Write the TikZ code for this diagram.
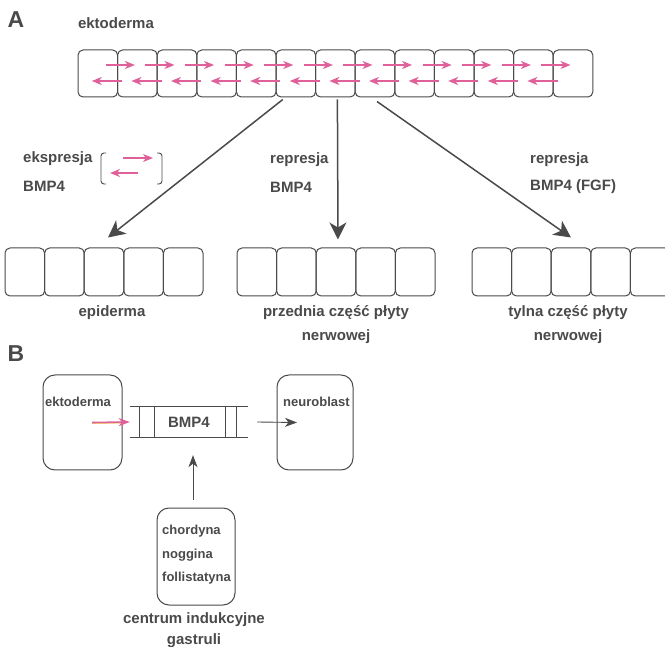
\documentclass[tikz,border=0pt]{standalone}
\usepackage{fontspec}
\setmainfont{Liberation Sans}
\usetikzlibrary{arrows.meta,calc}
\definecolor{ink}{HTML}{4A4A4A}
\definecolor{pinkA}{HTML}{E0609A}
\definecolor{yelA}{HTML}{EFD070}
\begin{document}
\begin{tikzpicture}[x=1pt,y=-1pt,
  font=\fontsize{15}{18}\selectfont\bfseries, text=ink,
  cell/.style={draw=ink, line width=1pt, rounded corners=5pt, minimum width=39.6pt, minimum height=47pt, inner sep=0pt},
  bigarrow/.style={draw=ink, line width=1.5pt, -{Stealth[length=17pt,width=17pt,inset=5pt]}},
  pinkarrow/.style={draw=pinkA, line width=1.6pt, -{Stealth[length=10pt,width=8pt,inset=3pt]}},
  yelline/.style={draw=yelA, line width=1.2pt},
  smallarrow/.style={draw=ink, line width=0.9pt, -{Stealth[length=12pt,width=9pt,inset=3.5pt]}},
  lbl/.style={inner sep=0pt, anchor=west},
  clbl/.style={inner sep=0pt, anchor=center},
  boxB/.style={draw=ink, line width=1pt, rounded corners=12pt, inner sep=0pt},
  smalltxt/.style={inner sep=0pt, anchor=west, font=\fontsize{13}{16}\selectfont\bfseries}
]
\useasboundingbox[fill=white] (0,0) rectangle (665,647);

% ---------- A ----------
\node[clbl, font=\fontsize{23}{26}\selectfont\bfseries] (labA) at (16,20) {A};
\node[clbl] (ekt) at (116,23) {ektoderma};

\foreach \i in {1,...,13}
  \node[cell] (t\i) at ({78+39.6*(\i-0.5)},73.5) {};

\foreach \i [evaluate=\i as \j using int(\i+1)] in {1,...,12} {
  \draw[yelline] ($(t\i.center)+(8,-7.6)$) -- ($(t\j.center)+(-9,-7.6)$);
  \draw[pinkarrow] ($(t\i.center)+(8,-8.5)$) -- ($(t\j.center)+(-2.5,-8.5)$);
  \draw[yelline] ($(t\j.center)+(-15.5,8.4)$) -- ($(t\i.center)+(1,8.4)$);
  \draw[pinkarrow] ($(t\j.center)+(-15.5,7.5)$) -- ($(t\i.center)+(-6,7.5)$);
}

% bottom groups
\foreach \i in {1,...,5} {
  \node[cell, minimum height=48pt] (e\i) at ({5+39.6*(\i-0.5)},272) {};
  \node[cell, minimum height=48pt] (m\i) at ({237+39.6*(\i-0.5)},272) {};
  \node[cell, minimum height=48pt] (r\i) at ({472+39.6*(\i-0.5)},272) {};
}

% big arrows
\draw[bigarrow] ([xshift=-13pt,yshift=-2pt]t6.south) -- ([xshift=4pt,yshift=10pt]e3.north);
\draw[bigarrow] ([xshift=2pt,yshift=-2pt]t7.south) -- ([xshift=2pt,yshift=8pt]m3.north);
\draw[bigarrow] ([xshift=2pt,yshift=-4pt]t8.south) -- ([xshift=0pt,yshift=10pt]r3.north);

% legend texts
\node[lbl] (eks) at (23,159) {ekspresja};
\node[lbl] (bmpL) at (23,186) {BMP4};
\node[lbl] (rep1) at (270,160) {represja};
\node[lbl] (bmpM) at (270,187) {BMP4};
\node[lbl] (rep2) at (530,160) {represja};
\node[lbl] (bmpR) at (530,187) {BMP4 (FGF)};

% bracket with arrows
\draw[ink, line width=0.9pt, rounded corners=3pt] (106,153) -- (101,153) -- (101,184) -- (106,184);
\draw[ink, line width=0.9pt, rounded corners=3pt] (157,153) -- (162,153) -- (162,184) -- (157,184);
\draw[yelline] (123,158.9) -- (146,158.9);
\draw[pinkarrow] (123,158) -- (153,158);
\draw[yelline] (138,173.9) -- (117,173.9);
\draw[pinkarrow] (138,173) -- (110,173);

% group labels
\node[clbl] (epi) at (112,313) {epiderma};
\node[clbl] (prz1) at (336,313) {przednia część płyty};
\node[clbl] (prz2) at (336,337) {nerwowej};
\node[clbl] (tyl1) at (568,313) {tylna część płyty};
\node[clbl] (tyl2) at (568,337) {nerwowej};

% ---------- B ----------
\node[clbl, font=\fontsize{23}{26}\selectfont\bfseries] (labB) at (16,354) {B};

\node[boxB, minimum width=79pt, minimum height=95pt] (eb) at (82.5,422.5) {};
\node[smalltxt] (ebt) at (45,402) {ektoderma};

\node[inner sep=0pt, minimum width=118pt, minimum height=30pt] (bmp) at (189,422) {BMP4};
\draw[ink, line width=1pt] (bmp.north west) -- (bmp.north east);
\draw[ink, line width=1pt] (bmp.south west) -- (bmp.south east);
\foreach \dx in {10,25,96,107}
  \draw[ink, line width=1pt] ([xshift=\dx pt]bmp.north west) -- ([xshift=\dx pt]bmp.south west);

\node[boxB, minimum width=76pt, minimum height=95pt] (nb) at (315,422.5) {};
\node[smalltxt] (nbt) at (283,402) {neuroblast};

\draw[yelline] ([xshift=9.5pt,yshift=-0.9pt]eb.center) -- ([xshift=-7pt,yshift=-0.9pt]bmp.west);
\draw[pinkA, line width=1.6pt, -{Stealth[length=11pt,width=8pt,inset=3pt]}] ([xshift=9.5pt]eb.center) -- (bmp.west);
\draw[smallarrow] ([xshift=9pt]bmp.east) -- ([xshift=-18pt]nb.center);

\node[boxB, minimum width=78pt, minimum height=97pt] (cb) at (196,556.5) {};
\node[smalltxt] (c1) at (162,531) {chordyna};
\node[smalltxt] (c2) at (162,555) {noggina};
\node[smalltxt] (c3) at (162,578) {follistatyna};
\draw[smallarrow] ([xshift=-3pt,yshift=8pt]cb.north) -- ([xshift=4pt,yshift=-18pt]bmp.south);

\node[clbl] (cen1) at (194,620) {centrum indukcyjne};
\node[clbl] (cen2) at (194,641) {gastruli};
\end{tikzpicture}
\end{document}
